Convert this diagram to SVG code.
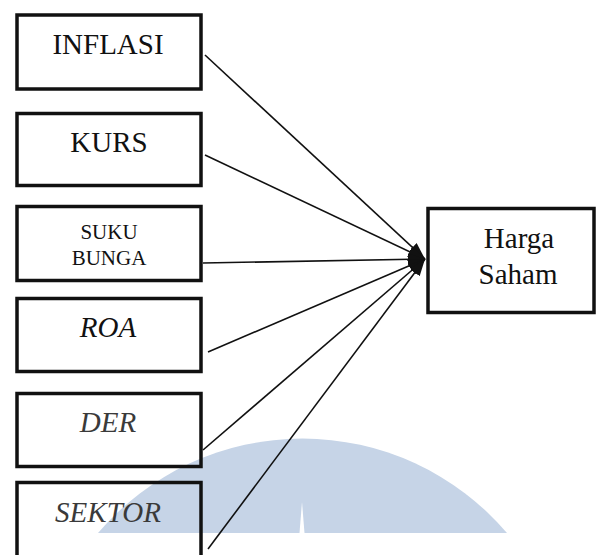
<svg xmlns="http://www.w3.org/2000/svg" width="597" height="555" viewBox="0 0 597 555">
<style>
.box{fill:none;stroke:#111;stroke-width:3.5}
.t{font-family:"Liberation Serif","Times New Roman",serif;font-size:29px;fill:#111;text-anchor:middle}
.s{font-size:21px}
.i{font-style:italic}
.g{fill:#3a3a3a}
.ln{stroke:#111;stroke-width:1.6;fill:none}
</style>
<defs>
<marker id="ah" markerUnits="userSpaceOnUse" markerWidth="18" markerHeight="12" refX="17" refY="6" orient="auto">
<path d="M0,0 L17,6 L0,12 Z" fill="#111"/>
</marker>
</defs>
<rect width="597" height="555" fill="#fff"/>
<g id="watermark">
<path d="M98,533 A268.7,268.7 0 0 1 507,533 Z" fill="#c6d4e7"/>
<path d="M299.5,533 L302,502 L304.5,533 Z" fill="#fff"/>
</g>
<g id="connectors">
<line class="ln" x1="205" y1="55" x2="425" y2="259" marker-end="url(#ah)"/>
<line class="ln" x1="205" y1="155" x2="425" y2="259" marker-end="url(#ah)"/>
<line class="ln" x1="203" y1="263" x2="425" y2="259" marker-end="url(#ah)"/>
<line class="ln" x1="208" y1="352" x2="425" y2="259" marker-end="url(#ah)"/>
<line class="ln" x1="203" y1="450" x2="425" y2="259" marker-end="url(#ah)"/>
<line class="ln" x1="208" y1="549" x2="425" y2="259" marker-end="url(#ah)"/>
</g>
<g id="inflasi">
<rect class="box" x="17" y="15" width="184" height="74"/>
<text class="t" x="108" y="54">INFLASI</text>
</g>
<g id="kurs">
<rect class="box" x="17" y="113.5" width="184" height="72"/>
<text class="t" x="109" y="152">KURS</text>
</g>
<g id="suku-bunga">
<rect class="box" x="17" y="206.5" width="184" height="74"/>
<text class="t s" x="109" y="239">SUKU</text>
<text class="t s" x="109" y="265">BUNGA</text>
</g>
<g id="roa">
<rect class="box" x="17" y="298.5" width="184" height="73"/>
<text class="t i" x="108" y="337">ROA</text>
</g>
<g id="der">
<rect class="box" x="17" y="393.5" width="184" height="73"/>
<text class="t i g" x="108" y="432">DER</text>
</g>
<g id="sektor">
<rect class="box" x="17" y="482.5" width="184" height="90"/>
<text class="t i g" x="108" y="522">SEKTOR</text>
</g>
<g id="harga-saham">
<rect class="box" x="428" y="208.5" width="166" height="104"/>
<text class="t" x="519" y="248">Harga</text>
<text class="t" x="518" y="284">Saham</text>
</g>
</svg>
